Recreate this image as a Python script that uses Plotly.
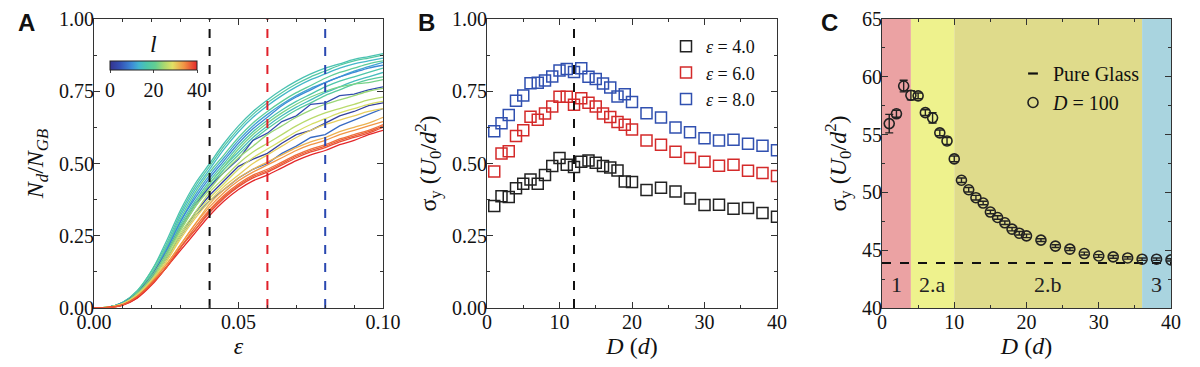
import plotly.graph_objects as go
from plotly.colors import sample_colorscale

# ---------------- Panel A data ----------------
eps_grid = [0, .005, .01, .015, .02, .025, .03, .035, .04, .045, .05,
            .055, .06, .065, .07, .075, .08, .085, .09, .095, .10]
curve_l = [16, 18, 14, 20, 12, 17, 15, 19,
           10, 4, 2, 7,
           22, 24, 26, 28, 30,
           32, 34, 36, 38, 40, 37]
curve_jagged = [False]*8 + [False, True, True, True] + [False]*5 + [False]*6
nd_curves = [
    [0, .003, .02, .06, .13, .23, .34, .43, .50, .57, .63, .68, .72, .755, .785, .81, .83, .845, .86, .87, .88],
    [0, .003, .02, .06, .13, .22, .33, .42, .49, .56, .62, .67, .71, .745, .775, .80, .82, .84, .855, .865, .875],
    [0, .003, .02, .055, .12, .21, .32, .41, .48, .55, .61, .66, .70, .735, .765, .79, .81, .83, .845, .855, .865],
    [0, .003, .02, .055, .12, .21, .31, .40, .47, .53, .59, .64, .68, .715, .745, .77, .795, .815, .83, .845, .855],
    [0, .003, .018, .05, .11, .20, .30, .39, .46, .52, .58, .63, .67, .705, .735, .76, .78, .80, .82, .835, .85],
    [0, .003, .018, .05, .11, .19, .29, .37, .44, .50, .56, .61, .65, .685, .715, .74, .765, .785, .80, .815, .83],
    [0, .003, .018, .05, .11, .19, .28, .36, .43, .49, .54, .59, .63, .665, .695, .72, .745, .765, .785, .80, .815],
    [0, .003, .018, .05, .10, .18, .27, .35, .42, .48, .53, .58, .62, .655, .685, .71, .735, .755, .775, .79, .80],
    [0, .003, .018, .05, .11, .20, .30, .38, .45, .51, .57, .62, .66, .70, .73, .755, .78, .80, .815, .83, .84],
    [0, .002, .015, .05, .11, .19, .28, .36, .42, .47, .515, .58, .605, .645, .665, .705, .71, .735, .74, .755, .765],
    [0, .002, .012, .045, .10, .17, .25, .33, .39, .44, .49, .515, .535, .57, .60, .615, .64, .665, .68, .70, .71],
    [0, .002, .012, .045, .10, .17, .25, .32, .37, .41, .45, .48, .50, .535, .56, .59, .60, .63, .65, .67, .69],
    [0, .003, .016, .05, .11, .19, .28, .36, .43, .49, .55, .60, .64, .675, .705, .73, .75, .765, .775, .78, .79],
    [0, .003, .015, .05, .10, .18, .27, .35, .41, .47, .52, .56, .60, .63, .66, .685, .705, .72, .735, .75, .76],
    [0, .003, .015, .045, .10, .17, .26, .33, .40, .45, .50, .54, .57, .60, .63, .655, .675, .69, .705, .72, .73],
    [0, .003, .014, .045, .095, .16, .25, .32, .38, .43, .48, .52, .55, .58, .61, .635, .655, .675, .69, .705, .715],
    [0, .003, .014, .045, .095, .16, .24, .31, .37, .42, .46, .50, .53, .56, .59, .615, .635, .65, .665, .68, .69],
    [0, .002, .012, .04, .09, .15, .22, .29, .36, .41, .45, .48, .505, .53, .555, .575, .59, .61, .625, .64, .66],
    [0, .002, .012, .04, .09, .15, .22, .29, .35, .40, .44, .47, .495, .52, .545, .565, .58, .60, .615, .63, .645],
    [0, .002, .011, .04, .085, .14, .21, .28, .34, .39, .43, .46, .48, .505, .53, .55, .565, .585, .60, .615, .635],
    [0, .002, .011, .035, .085, .14, .21, .27, .33, .38, .42, .45, .47, .495, .52, .54, .555, .575, .59, .605, .625],
    [0, .002, .01, .035, .08, .14, .20, .26, .32, .37, .41, .44, .46, .485, .51, .53, .545, .565, .58, .60, .615],
    [0, .002, .011, .04, .085, .14, .21, .27, .335, .385, .425, .455, .475, .50, .525, .545, .56, .58, .595, .61, .63],
]
strain_marks = [0.04, 0.06, 0.08]
strain_mark_colors = ["#111111", "#e0202a", "#2a48b0"]
l_range = [0, 40]

# ---------------- Panel B data ----------------
D_vals = [1, 2, 3, 4, 5, 6, 7, 8, 9, 10, 11, 12, 13, 14, 15, 16, 17, 18, 19, 20,
          22, 24, 26, 28, 30, 32, 34, 36, 38, 40]
sig_eps4 = [.353, .387, .384, .414, .430, .445, .430, .460, .491, .519, .496, .488, .506, .510, .503,
            .491, .486, .476, .438, .436, .408, .416, .403, .379, .356, .357, .343, .346, .329, .316]
sig_eps6 = [.472, .535, .542, .595, .615, .662, .651, .673, .697, .731, .731, .703, .726, .710, .697,
            .673, .661, .644, .634, .618, .580, .565, .541, .519, .506, .492, .496, .475, .467, .457]
sig_eps8 = [.612, .639, .668, .717, .735, .778, .779, .787, .801, .822, .827, .817, .830, .800, .792,
            .777, .763, .732, .740, .713, .674, .659, .625, .608, .587, .580, .582, .568, .561, .546]
series_names_B = ["<i>ε</i> = 4.0", "<i>ε</i> = 6.0", "<i>ε</i> = 8.0"]
series_colors_B = ["#222222", "#d42a2a", "#3050b0"]
D_peak = 12

# ---------------- Panel C data ----------------
sig_D100 = [55.95, 56.8, 59.2, 58.4, 58.35, 56.9, 56.45, 55.15, 54.45, 52.9, 51.05, 50.23, 49.54,
            49.08, 48.3, 47.83, 47.37, 46.82, 46.47, 46.24, 45.87, 45.35, 45.09, 44.71, 44.5,
            44.42, 44.33, 44.22, 44.22, 44.16]
err_D100 = [0.8, 0.3, 0.5, 0.4, 0.25, 0.25, 0.45, 0.25, 0.3, 0.25, 0.2, 0.2, 0.2, 0.15, 0.15,
            0.15, 0.15, 0.15, 0.15, 0.15, 0.12, 0.12, 0.12, 0.12, 0.12, 0.12, 0.1, 0.1, 0.1, 0.1]
pure_glass = 43.9
region_edges = [0, 4, 10, 36, 40]
region_labels = ["1", "2.a", "2.b", "3"]
region_colors = ["#eba2a3", "#eef28d", "#dfdb8b", "#a9d4df"]
region_label_y = 42

# ---------------- figure ----------------
SERIF = "Liberation Serif"
colorscale = [[0.0, "#34348f"], [0.12, "#3452b5"], [0.25, "#3d8ad6"], [0.33, "#42b4d0"],
              [0.42, "#4cc6aa"], [0.52, "#62cf92"], [0.62, "#a8d870"], [0.72, "#e2e064"],
              [0.85, "#f29444"], [1.0, "#e4282a"]]

fig = go.Figure()

for lval, ys, jag in zip(curve_l, nd_curves, curve_jagged):
    col = sample_colorscale(colorscale, [(lval - l_range[0]) / (l_range[1] - l_range[0])])[0]
    fig.add_trace(go.Scatter(x=eps_grid, y=ys, mode="lines", xaxis="x", yaxis="y",
                             line=dict(color=col, width=1.3, shape="linear" if jag else "spline"),
                             showlegend=False, hoverinfo="skip"))

for xv, col in zip(strain_marks, strain_mark_colors):
    fig.add_trace(go.Scatter(x=[xv, xv], y=[0, 1], mode="lines", xaxis="x", yaxis="y",
                             line=dict(color=col, width=2, dash="dash"), showlegend=False))

# colorbar carrier
fig.add_trace(go.Scatter(x=[None], y=[None], mode="markers", xaxis="x", yaxis="y",
                         marker=dict(color=l_range, colorscale=colorscale, cmin=l_range[0], cmax=l_range[1],
                                     showscale=True,
                                     colorbar=dict(orientation="h", x=153.5 / 1200, y=(308 - 61) / 289,
                                                   xanchor="center", yanchor="top",
                                                   lenmode="pixels", len=87, thickness=9,
                                                   xpad=0, ypad=0, outlinewidth=1, outlinecolor="#222",
                                                   tickvals=[0, 20, 40], ticks="outside", ticklen=3,
                                                   tickfont=dict(family=SERIF, size=20, color="#111"))),
                         showlegend=False))
fig.add_annotation(x=153.5 / 1200, y=(308 - 44) / 289, xref="paper", yref="paper", text="<i>l</i>",
                   showarrow=False, font=dict(family=SERIF, size=24, color="#111"),
                   xanchor="center", yanchor="middle")

# Panel B
for ys, name, col in zip([sig_eps4, sig_eps6, sig_eps8], series_names_B, series_colors_B):
    fig.add_trace(go.Scatter(x=D_vals, y=ys, mode="markers", xaxis="x2", yaxis="y2", name=name,
                             marker=dict(symbol="square-open", size=11, color=col, line=dict(width=1.5, color=col)),
                             legend="legend"))
fig.add_trace(go.Scatter(x=[D_peak, D_peak], y=[0, 1], mode="lines", xaxis="x2", yaxis="y2",
                         line=dict(color="#111", width=2, dash="dash"), showlegend=False))

# Panel C
for i, (lab, col) in enumerate(zip(region_labels, region_colors)):
    fig.add_shape(type="rect", xref="x3", yref="y3 domain", x0=region_edges[i], x1=region_edges[i + 1],
                  y0=0, y1=1, fillcolor=col, line=dict(width=0), layer="below")
    fig.add_annotation(x=(region_edges[i] + region_edges[i + 1]) / 2, y=region_label_y, xref="x3", yref="y3",
                       text=lab, showarrow=False, font=dict(family=SERIF, size=22, color="#222"))

fig.add_trace(go.Scatter(x=[region_edges[0], region_edges[-1]], y=[pure_glass, pure_glass], mode="lines",
                         xaxis="x3", yaxis="y3", line=dict(color="#111", width=2, dash="dash"),
                         showlegend=False))
fig.add_trace(go.Scatter(x=[None], y=[None], mode="markers", xaxis="x3", yaxis="y3", name="Pure Glass",
                         marker=dict(symbol="line-ew-open", size=7, color="#111", line=dict(width=2.2, color="#111")),
                         legend="legend2"))
fig.add_trace(go.Scatter(x=D_vals, y=sig_D100, mode="markers", xaxis="x3", yaxis="y3",
                         name="<i>D</i> = 100",
                         marker=dict(symbol="circle-open", size=10, color="#222", line=dict(width=1.6, color="#222")),
                         error_y=dict(type="data", array=err_D100, width=4, thickness=1.4, color="#222"),
                         legend="legend2"))

axis_common = dict(showline=True, linecolor="#333", linewidth=1, mirror="ticks", ticks="inside",
                   ticklen=6, tickwidth=1, tickcolor="#333", showgrid=False, zeroline=False,
                   automargin=False, tickfont=dict(family=SERIF, size=20, color="#111"))

def xa(domain, rng, dtick, minor, fmt, title, anchor):
    d = dict(axis_common)
    d.update(domain=domain, range=rng, dtick=dtick, tickformat=fmt, anchor=anchor, ticklabelstandoff=-4,
             minor=dict(dtick=minor, ticks="inside", ticklen=3, tickcolor="#333"),
             title=dict(text=title, font=dict(family=SERIF, size=24, color="#111"), standoff=2))
    return d

def ya(rng, dtick, minor, fmt, title, anchor):
    d = dict(axis_common)
    d.update(domain=[0, 1], range=rng, dtick=dtick, tickformat=fmt, anchor=anchor, ticklabelstandoff=-5,
             minor=dict(dtick=minor, ticks="inside", ticklen=3, tickcolor="#333"),
             title=dict(text=title, font=dict(family=SERIF, size=24, color="#111"), standoff=8))
    return d

fig.update_layout(
    width=1200, height=367,
    margin=dict(l=0, r=0, t=19, b=59, autoexpand=False),
    paper_bgcolor="white", plot_bgcolor="white",
    xaxis=xa([94 / 1200, 383 / 1200], [0, 0.1], 0.05, 0.01, ".2f", "<i>ε</i>", "y"),
    yaxis=ya([0, 1], 0.25, 0.125, ".2f",
             "<i>N</i><sub><i>d</i></sub>/<i>N</i><sub><i>GB</i></sub>", "x"),
    xaxis2=xa([487 / 1200, 777 / 1200], [0, 40], 10, 5, "d", "<i>D</i> (<i>d</i>)", "y2"),
    yaxis2=ya([0, 1], 0.25, 0.125, ".2f",
              "σ<sub>y</sub> (<i>U</i><sub>0</sub>/<i>d</i><sup>2</sup>)", "x2"),
    xaxis3=xa([882 / 1200, 1171 / 1200], [0, 40], 10, 5, "d", "<i>D</i> (<i>d</i>)", "y3"),
    yaxis3=ya([40, 65], 5, 2.5, "d",
              "σ<sub>y</sub> (<i>U</i><sub>0</sub>/<i>d</i><sup>2</sup>)", "x3"),
    legend=dict(x=666 / 1200, y=(308 - 28) / 289, xanchor="left", yanchor="top",
                bgcolor="rgba(0,0,0,0)", font=dict(family=SERIF, size=18, color="#111"),
                itemwidth=30, tracegroupgap=0),
    legend2=dict(x=1013 / 1200, y=(308 - 54) / 289, xanchor="left", yanchor="top",
                 bgcolor="rgba(0,0,0,0)", font=dict(family=SERIF, size=20, color="#111"),
                 itemwidth=30, tracegroupgap=0),
    showlegend=True,
)

for letter, px in zip(["A", "B", "C"], [26, 426, 829]):
    fig.add_annotation(x=px / 1200, y=(308 - 22) / 289, xref="paper", yref="paper", text="<b>%s</b>" % letter,
                       showarrow=False, font=dict(family="Liberation Sans", size=24, color="#111"),
                       xanchor="center", yanchor="middle")

fig.write_html("out.html", config={"displayModeBar": False},
               post_script="document.body.style.margin='0px';document.body.style.overflow='hidden';")
